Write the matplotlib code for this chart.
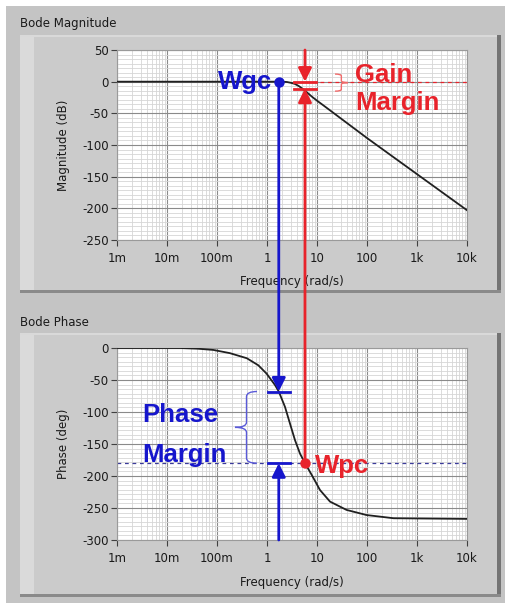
import matplotlib.pyplot as plt
from matplotlib.patches import Rectangle, ConnectionPatch, PathPatch
from matplotlib.path import Path
from matplotlib.ticker import LogLocator, MultipleLocator, AutoMinorLocator, NullFormatter
from matplotlib.transforms import blended_transform_factory

plt.rcParams["axes.unicode_minus"] = False

# values
freq_mag = [0.001, 0.01, 0.1, 1, 2, 2.5, 3, 3.6, 4.3, 5, 6.2, 8, 10, 13.2, 100, 1000, 10000]
mag_db = [0, 0, 0, 0, 0, -0.5, -1.8, -3.5, -6.8, -10.5, -16.5, -24, -30, -37, -89, -146, -203]

freq_phase = [0.001, 0.01, 0.018, 0.04, 0.084, 0.18, 0.395, 0.67, 0.98, 1.45, 1.72,
              2.29, 2.88, 3.63, 4.57, 5.75, 7.8, 11.5, 18.2, 39, 98, 340, 10000]
phase_deg = [0, 0, 0, -1, -3, -8, -16, -27, -40, -58, -68,
             -92, -118, -144, -165, -180, -198, -222, -240, -253, -261, -266, -267]

freq_ticks = [1e-3, 1e-2, 1e-1, 1, 10, 100, 1e3, 1e4]
freq_labels = ["1m", "10m", "100m", "1", "10", "100", "1k", "10k"]

w_gc = 1.72          # gain crossover (rad/s)
w_pc = 5.75          # phase crossover (rad/s)
phase_at_gc = -68    # phase at w_gc
mag_at_pc = -11      # lower gain-margin bar (dB)

blue = "#1616cc"
red = "#e8232b"
W, H = 506, 603

fig = plt.figure(figsize=(W / 100, H / 100), dpi=100, facecolor="white")


def box(x0, y0, x1, y1, color, z):
    fig.add_artist(Rectangle((x0 / W, 1 - y1 / H), (x1 - x0) / W, (y1 - y0) / H,
                             transform=fig.transFigure, facecolor=color,
                             edgecolor="none", zorder=z))


# window background and the two raised panels
box(6, 6, W, H, "#c4c4c4", -10)
for top, bottom in [(35, 293), (333, 597)]:
    box(20, top, 501, bottom, "#cbcbcb", -9)
    box(20, top, 34, bottom, "#dadada", -8)
    box(20, top, 501, top + 2, "#d9d9d9", -8)
    box(497, top, 501, bottom, "#747474", -7)
    box(20, bottom - 3, 501, bottom, "#8a8a8a", -7)

fig.text(20 / W, 1 - 24 / H, "Bode Magnitude", va="center", fontsize=8.5, color="#1a1a1a")
fig.text(20 / W, 1 - 323 / H, "Bode Phase", va="center", fontsize=8.5, color="#1a1a1a")

ax1 = fig.add_axes([117 / W, 1 - 240 / H, 350 / W, 190 / H])
ax2 = fig.add_axes([117 / W, 1 - 540 / H, 350 / W, 192 / H])


def setup(ax, ylim, ylabel):
    ax.set_facecolor("white")
    ax.set_xscale("log")
    ax.set_xlim(1e-3, 1e4)
    ax.set_ylim(*ylim)
    ax.set_xticks(freq_ticks)
    ax.set_xticklabels(freq_labels)
    ax.xaxis.set_minor_locator(LogLocator(base=10, subs=range(2, 10), numticks=100))
    ax.xaxis.set_minor_formatter(NullFormatter())
    ax.yaxis.set_major_locator(MultipleLocator(50))
    ax.yaxis.set_minor_locator(AutoMinorLocator(7))
    ax.grid(which="major", color="#8a8a8a", lw=0.8)
    ax.grid(which="minor", color="#d6d6d6", lw=0.6)
    ax.set_axisbelow(True)
    ax.tick_params(which="major", direction="out", length=4, width=0.8,
                   color="#404040", labelsize=8.5, labelcolor="#1a1a1a")
    ax.tick_params(axis="x", pad=5)
    ax.tick_params(axis="y", pad=2)
    ax.tick_params(which="minor", length=0)
    for s in ax.spines.values():
        s.set_color("#9a9a9a")
        s.set_linewidth(0.8)
    ax.set_xlabel("Frequency (rad/s)", fontsize=8.5, color="#1a1a1a")
    ax.xaxis.set_label_coords(0.5, -0.185)
    ax.set_ylabel(ylabel, fontsize=8.5, color="#1a1a1a")
    ax.yaxis.set_label_coords(-0.135, 0.5)


setup(ax1, (-250, 50), "Magnitude (dB)")
setup(ax2, (-300, 0), "Phase (deg)")

ax1.plot(freq_mag, mag_db, color="#202020", lw=1.3, zorder=3)
ax2.plot(freq_phase, phase_deg, color="#202020", lw=1.3, zorder=3)


def brace(ax, x_end, x_mid, x_tip, y0, y1, d, color):
    tr = blended_transform_factory(ax.transAxes, ax.transData)
    ym = (y0 + y1) / 2
    verts = [(x_end, y0), (x_mid, y0), (x_mid, y0 - d),
             (x_mid, ym + d), (x_mid, ym), (x_tip, ym),
             (x_mid, ym), (x_mid, ym - d),
             (x_mid, y1 + d), (x_mid, y1), (x_end, y1)]
    codes = [Path.MOVETO, Path.CURVE3, Path.CURVE3, Path.LINETO, Path.CURVE3, Path.CURVE3,
             Path.CURVE3, Path.CURVE3, Path.LINETO, Path.CURVE3, Path.CURVE3]
    ax.add_patch(PathPatch(Path(verts, codes), transform=tr, fill=False,
                           edgecolor=color, lw=1, clip_on=False, zorder=4))


arrow = "-|>,head_length=0.8,head_width=0.4"
bar = 10 ** 0.22
big = dict(fontsize=18.5, fontweight="bold", family="Liberation Sans")

# gain crossover / phase margin (blue)
ax1.plot([w_gc], [0], "o", ms=6.5, color=blue, zorder=6)
ax1.annotate("Wgc", xy=(w_gc, 0), xytext=(-5, -5.4), textcoords="offset points",
             ha="right", va="baseline", color=blue, **big)
fig.add_artist(ConnectionPatch(xyA=(w_gc, 0), coordsA="data", axesA=ax1,
                               xyB=(w_gc, phase_at_gc), coordsB="data", axesB=ax2,
                               arrowstyle=arrow, mutation_scale=10, lw=2, color=blue,
                               shrinkA=3, shrinkB=0, zorder=5))
ax2.axhline(-180, color="#3a3a9a", lw=0.9, ls=(0, (3, 3)), zorder=2.5)
for y in (phase_at_gc, -180):
    ax2.plot([w_gc / bar, w_gc * bar], [y, y], color=blue, lw=2, zorder=5)
ax2.annotate("", xy=(w_gc, -180), xytext=(w_gc, -300),
             arrowprops=dict(arrowstyle=arrow, mutation_scale=10, lw=2, color=blue,
                             shrinkA=0, shrinkB=0))
brace(ax2, 0.40, 0.37, 0.337, phase_at_gc, -180, 8, "#5a5ad8")
ax2.text(0.071, 0.616, "Phase", transform=ax2.transAxes, color=blue, va="baseline", **big)
ax2.text(0.071, 0.408, "Margin", transform=ax2.transAxes, color=blue, va="baseline", **big)

# phase crossover / gain margin (red)
ax1.plot([w_pc, 1e4], [0, 0], color=red, lw=0.9, ls=(0, (3, 3)), zorder=2.5)
ax1.annotate("", xy=(w_pc, 0), xytext=(w_pc, 50),
             arrowprops=dict(arrowstyle=arrow, mutation_scale=10, lw=2, color=red,
                             shrinkA=0, shrinkB=0))
for y in (0, mag_at_pc):
    ax1.plot([w_pc / bar, w_pc * bar], [y, y], color=red, lw=2, zorder=5)
ax2.plot([w_pc], [-180], "o", ms=6.5, color=red, zorder=6)
fig.add_artist(ConnectionPatch(xyA=(w_pc, -180), coordsA="data", axesA=ax2,
                               xyB=(w_pc, mag_at_pc), coordsB="data", axesB=ax1,
                               arrowstyle=arrow, mutation_scale=10, lw=2, color=red,
                               shrinkA=3, shrinkB=0, zorder=5))
brace(ax1, 0.623, 0.641, 0.66, 12, -15, 3, "#f06a6a")
ax1.text(0.68, 0.833, "Gain", transform=ax1.transAxes, color=red, va="baseline", **big)
ax1.text(0.68, 0.684, "Margin", transform=ax1.transAxes, color=red, va="baseline", **big)
ax2.annotate("Wpc", xy=(w_pc, -180), xytext=(7, -7), textcoords="offset points",
             ha="left", va="baseline", color=red, **big)

fig.savefig("out.png", dpi=100, facecolor=fig.get_facecolor())
